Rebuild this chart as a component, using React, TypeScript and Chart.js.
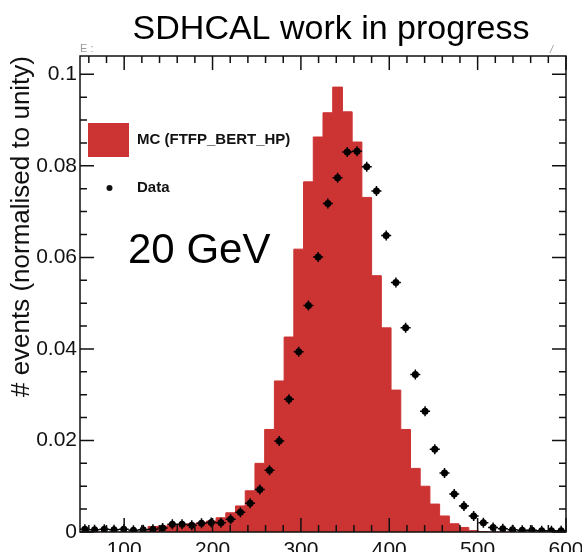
import { useEffect, useRef } from "react";
import { Chart, registerables } from "chart.js";

Chart.register(...registerables);

// Binning: 50 bins of width 11 between 50 and 600
const X_MIN = 50;
const X_MAX = 600;
const BIN_WIDTH = 11;
const Y_MIN = 0;
const Y_MAX = 0.104;

// Axis tick spacing
const X_MAJOR = 100;
const X_MINOR = 20;
const Y_MAJOR = 0.02;
const Y_MINOR = 0.005;

// Simulation (MC, FTFP_BERT_HP), normalised to unity, one value per bin
const mcValues = [
  0, 0, 0, 0, 0, 0, 0, 0, 0.0012, 0.0013,
  0.0015, 0.0016, 0.0018, 0.002, 0.0024, 0.0031, 0.0042, 0.0057, 0.009, 0.015,
  0.0224, 0.033, 0.0426, 0.0618, 0.0765, 0.0863, 0.0916, 0.0972, 0.0918, 0.0852,
  0.0731, 0.056, 0.0446, 0.031, 0.0224, 0.0139, 0.01, 0.0061, 0.0035, 0.0018,
  0.001, 0.0003, 0.0001, 0, 0, 0, 0, 0, 0, 0,
];

// Measured data, normalised to unity, one value per bin
const dataValues = [
  0.0006, 0.0005, 0.0006, 0.0005, 0.0006, 0.0004, 0.0005, 0.0006, 0.0009, 0.0017,
  0.0017, 0.0015, 0.0019, 0.0021, 0.002, 0.0028, 0.0043, 0.0063, 0.0093, 0.0135,
  0.0199, 0.029, 0.0394, 0.0495, 0.0601, 0.0718, 0.0774, 0.083, 0.0832, 0.0798,
  0.0745, 0.0648, 0.0545, 0.0446, 0.0344, 0.0264, 0.0181, 0.0129, 0.0083, 0.0057,
  0.0035, 0.002, 0.001, 0.0007, 0.0005, 0.0004, 0.0004, 0.0003, 0.0003, 0.0003,
];

const TITLE = "SDHCAL work in progress";
const Y_TITLE = "# events (normalised to unity)";
const MC_LABEL = "MC (FTFP_BERT_HP)";
const DATA_LABEL = "Data";
const ENERGY_LABEL = "20 GeV";

const RED = "#cc3333";
const INK = "#111111";
const FONT = "'Liberation Sans', Arial, Helvetica, sans-serif";

// Histogram outline points on the bin edges (stepped after each edge)
const mcPoints = [
  ...mcValues.map((v, i) => ({ x: X_MIN + i * BIN_WIDTH, y: v })),
  { x: X_MAX, y: mcValues[mcValues.length - 1] },
];

// Data points at bin centres
const dataPoints = dataValues.map((v, i) => ({
  x: X_MIN + (i + 0.5) * BIN_WIDTH,
  y: v,
}));

const isMultiple = (v: number, step: number) =>
  Math.abs(v / step - Math.round(v / step)) < 1e-6;

// Frame with inward ticks on all four sides, plus legend and text labels
const framePlugin = {
  id: "frameAndLabels",
  afterDraw(chart: any) {
    const { ctx, chartArea } = chart;
    const xs = chart.scales.x;
    const ys = chart.scales.y;
    const { left, right, top, bottom } = chartArea;
    const majorLen = 14;
    const minorLen = 7;

    ctx.save();
    ctx.strokeStyle = INK;
    ctx.lineWidth = 1.5;
    ctx.strokeRect(left, top, right - left, bottom - top);

    ctx.beginPath();
    const xStart = Math.ceil(X_MIN / X_MINOR) * X_MINOR;
    for (let v = xStart; v <= X_MAX + 1e-9; v += X_MINOR) {
      const px = xs.getPixelForValue(v);
      const len = isMultiple(v, X_MAJOR) ? majorLen : minorLen;
      ctx.moveTo(px, bottom);
      ctx.lineTo(px, bottom - len);
      ctx.moveTo(px, top);
      ctx.lineTo(px, top + len);
    }
    for (let k = 0; Y_MIN + k * Y_MINOR <= Y_MAX + 1e-9; k++) {
      const v = Y_MIN + k * Y_MINOR;
      const py = ys.getPixelForValue(v);
      const len = isMultiple(v, Y_MAJOR) ? majorLen : minorLen;
      ctx.moveTo(left, py);
      ctx.lineTo(left + len, py);
      ctx.moveTo(right, py);
      ctx.lineTo(right - len, py);
    }
    ctx.stroke();

    // Legend
    ctx.fillStyle = RED;
    ctx.fillRect(88, 123, 41, 34);
    ctx.fillStyle = INK;
    ctx.beginPath();
    ctx.arc(109.5, 188, 3, 0, Math.PI * 2);
    ctx.fill();
    ctx.font = `bold 15px ${FONT}`;
    ctx.textBaseline = "middle";
    ctx.textAlign = "left";
    ctx.fillText(MC_LABEL, 137, 140);
    ctx.fillText(DATA_LABEL, 137, 188);

    // Beam energy
    ctx.fillStyle = "#000";
    ctx.textBaseline = "alphabetic";
    ctx.font = `42px ${FONT}`;
    ctx.fillText(ENERGY_LABEL, 128, 263);

    // Title
    ctx.textAlign = "center";
    ctx.font = `34px ${FONT}`;
    ctx.fillText(TITLE, 331, 39);

    // Faint fragments above the frame
    ctx.fillStyle = "#9a9a9a";
    ctx.textAlign = "left";
    ctx.font = `11px ${FONT}`;
    ctx.fillText("E :", 80, 52);
    ctx.font = `italic 11px ${FONT}`;
    ctx.fillText("/", 550, 53);
    ctx.restore();
  },
};

export default function App() {
  const canvasRef = useRef<HTMLCanvasElement | null>(null);

  useEffect(() => {
    const canvas = canvasRef.current;
    if (!canvas) return;

    const chart = new Chart(canvas, {
      type: "scatter",
      data: {
        datasets: [
          {
            type: "scatter",
            label: DATA_LABEL,
            data: dataPoints,
            pointStyle: "circle",
            pointRadius: 3.5,
            backgroundColor: "#000",
            borderWidth: 0,
            order: 0,
          } as any,
          {
            type: "scatter",
            label: DATA_LABEL + " errors",
            data: dataPoints,
            pointStyle: "cross",
            pointRadius: 5,
            borderColor: "#000",
            borderWidth: 1.5,
            order: 1,
          } as any,
          {
            type: "line",
            label: MC_LABEL,
            data: mcPoints,
            stepped: "after",
            fill: "origin",
            backgroundColor: RED,
            borderColor: RED,
            borderWidth: 1,
            pointRadius: 0,
            order: 2,
          } as any,
        ],
      },
      options: {
        animation: false,
        responsive: false,
        devicePixelRatio: 1,
        events: [],
        layout: { padding: { top: 56, right: 16, bottom: 0, left: 0 } },
        plugins: {
          legend: { display: false },
          tooltip: { enabled: false },
        },
        scales: {
          x: {
            type: "linear",
            position: "bottom",
            min: X_MIN,
            max: X_MAX,
            grid: { display: false, drawTicks: false },
            border: { display: false },
            ticks: {
              stepSize: X_MAJOR,
              includeBounds: false,
              autoSkip: false,
              maxRotation: 0,
              padding: 6,
              color: INK,
              font: { family: FONT, size: 21 },
              callback: (v: any) => String(v),
            },
            afterFit: (s: any) => {
              s.height = 20;
              s.paddingLeft = 0;
              s.paddingRight = 0;
            },
          },
          y: {
            type: "linear",
            position: "left",
            min: Y_MIN,
            max: Y_MAX,
            grid: { display: false, drawTicks: false },
            border: { display: false },
            ticks: {
              stepSize: Y_MAJOR,
              includeBounds: false,
              autoSkip: false,
              padding: 3,
              color: INK,
              font: { family: FONT, size: 21 },
              callback: (v: any) => String(+Number(v).toFixed(3)),
            },
            title: {
              display: true,
              text: Y_TITLE,
              align: "end",
              color: INK,
              font: { family: FONT, size: 26 },
              padding: { top: 6, bottom: 0 },
            },
            afterFit: (s: any) => {
              s.width = 80;
              s.paddingTop = 0;
              s.paddingBottom = 0;
            },
          },
        },
      } as any,
      plugins: [framePlugin],
    });

    return () => chart.destroy();
  }, []);

  return (
    <div
      style={{
        position: "fixed",
        left: 0,
        top: 0,
        width: 582,
        height: 552,
        background: "#fff",
      }}
    >
      <canvas
        ref={canvasRef}
        width={582}
        height={552}
        style={{ display: "block", width: 582, height: 552 }}
      />
    </div>
  );
}
